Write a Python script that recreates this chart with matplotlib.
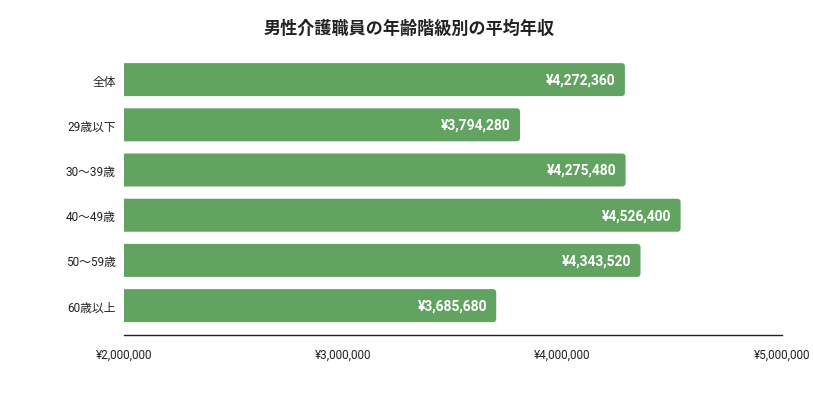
import matplotlib
matplotlib.use("Agg")
import matplotlib.pyplot as plt
from matplotlib.patches import FancyBboxPatch
from matplotlib.transforms import offset_copy

plt.rcParams['font.family'] = ['Roboto', 'Noto Sans CJK JP', 'DejaVu Sans']

title = "男性介護職員の年齢階級別の平均年収"
categories = ["全体", "29歳以下", "30〜39歳", "40〜49歳", "50〜59歳", "60歳以上"]
values = [4272360, 3794280, 4275480, 4526400, 4343520, 3685680]
xticks = [2000000, 3000000, 4000000, 5000000]
xtick_labels = ["¥2,000,000", "¥3,000,000", "¥4,000,000", "¥5,000,000"]

W, H = 813, 410
fig = plt.figure(figsize=(W / 100, H / 100), dpi=100)
left, right, top, bottom = 124, 782, 58, 336
ax = fig.add_axes([left / W, 1 - bottom / H, (right - left) / W, (bottom - top) / H])

green = "#62a362"
xmin, xmax = 2000000, 5000000
ax.set_xlim(xmin, xmax)
ax.set_ylim(5.65, -0.5)
bar_h = 0.73

px_x = (xmax - xmin) / (right - left)
px_y = (5.65 + 0.5) / (bottom - top)
r_px = 3.5
ext = 2.5 * px_x  # end-cap padding of the bars
hidden = 2 * r_px * px_x  # left rounded corners fall outside the axes and are clipped
for i, v in enumerate(values):
    p = FancyBboxPatch((xmin - hidden, i - bar_h / 2), v - xmin + ext + hidden, bar_h,
                       boxstyle=f"round,pad=0,rounding_size={r_px * px_x}",
                       mutation_aspect=px_y / px_x,
                       facecolor=green, edgecolor="none")
    ax.add_patch(p)
    ax.text(v, i, f"¥{v:,}", ha="right", va="center", color="white",
            fontsize=10, fontweight="bold",
            transform=offset_copy(ax.transData, fig=fig, x=-6.5, y=0, units="dots"))

ax.set_yticks(range(len(categories)))
ax.set_yticklabels(categories, fontsize=8.5, color="#222222")
ax.set_xticks(xticks)
ax.set_xticklabels(xtick_labels, fontsize=8.5, color="#222222")
ax.tick_params(axis="both", length=0)
ax.tick_params(axis="x", pad=9)
ax.tick_params(axis="y", pad=6)
for s in ["top", "right", "left"]:
    ax.spines[s].set_visible(False)
ax.spines["bottom"].set_color("#222222")
ax.spines["bottom"].set_linewidth(1.0)

fig.text(409.5 / W, 1 - 28.5 / H, title, ha="center", va="center",
         fontsize=12.3, fontweight="bold", color="#222222")

fig.savefig("out.png", dpi=100)
